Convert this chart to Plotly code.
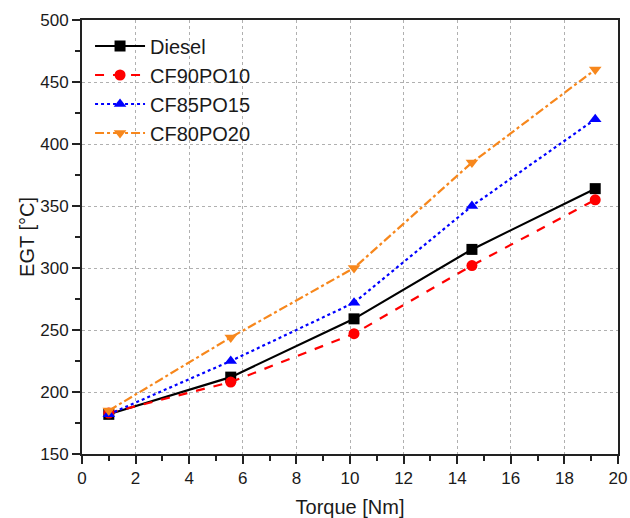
import plotly.graph_objects as go

torque = [1.0, 5.55, 10.15, 14.55, 19.15]
diesel = [182, 212, 259, 315, 364]
cf90po10 = [183, 208, 247, 302, 355]
cf85po15 = [182, 225, 272, 350, 420]
cf80po20 = [185, 244, 300, 385, 460]

series = [
    ("Diesel", diesel, "black", "solid", "square"),
    ("CF90PO10", cf90po10, "#ff0000", "dash", "circle"),
    ("CF85PO15", cf85po15, "#0000ff", "dot", "triangle-up"),
    ("CF80PO20", cf80po20, "#f7871c", "dashdot", "triangle-down"),
]

FONT = "Liberation Sans, Arial, sans-serif"

fig = go.Figure()
for name, ys, color, dash, sym in series:
    fig.add_trace(go.Scatter(
        x=torque, y=ys, name=name, mode="lines+markers",
        line=dict(color=color, width=2.2, dash=dash),
        marker=dict(symbol=sym, size=11, color=color),
    ))

axis_common = dict(
    showline=True, linecolor="#222", linewidth=2, mirror=True,
    ticks="outside", ticklen=8, tickwidth=1.5, tickcolor="#222",
    showgrid=True, gridcolor="#b0b0b0", griddash="dot", gridwidth=1.2,
    zeroline=False, automargin=False,
    tickfont=dict(family=FONT, size=17, color="#1a1a1a"),
)

fig.update_xaxes(
    range=[0, 20], dtick=2, tick0=0,
    minor=dict(dtick=1, ticks="outside", ticklen=5, tickcolor="#222", showgrid=False),
    title=dict(text="Torque [Nm]", font=dict(family=FONT, size=20, color="#1a1a1a"), standoff=14),
    **axis_common,
)
fig.update_yaxes(
    range=[150, 500], dtick=50, tick0=150,
    minor=dict(dtick=25, ticks="outside", ticklen=5, tickcolor="#222", showgrid=False),
    title=dict(text="EGT [°C]", font=dict(family=FONT, size=20, color="#1a1a1a"), standoff=0),
    **axis_common,
)

fig.update_layout(
    width=630, height=518,
    margin=dict(l=82, r=12, t=20, b=64),
    plot_bgcolor="white", paper_bgcolor="white",
    legend=dict(
        x=0.015, y=0.985, xanchor="left", yanchor="top",
        bgcolor="rgba(255,255,255,0)", borderwidth=0,
        font=dict(family=FONT, size=20, color="#1a1a1a"),
        tracegroupgap=0, itemwidth=50,
    ),
)

fig.write_html(
    "out.html",
    config={"displayModeBar": False},
    post_script="document.body.style.margin='0';document.body.style.overflow='hidden';",
)
